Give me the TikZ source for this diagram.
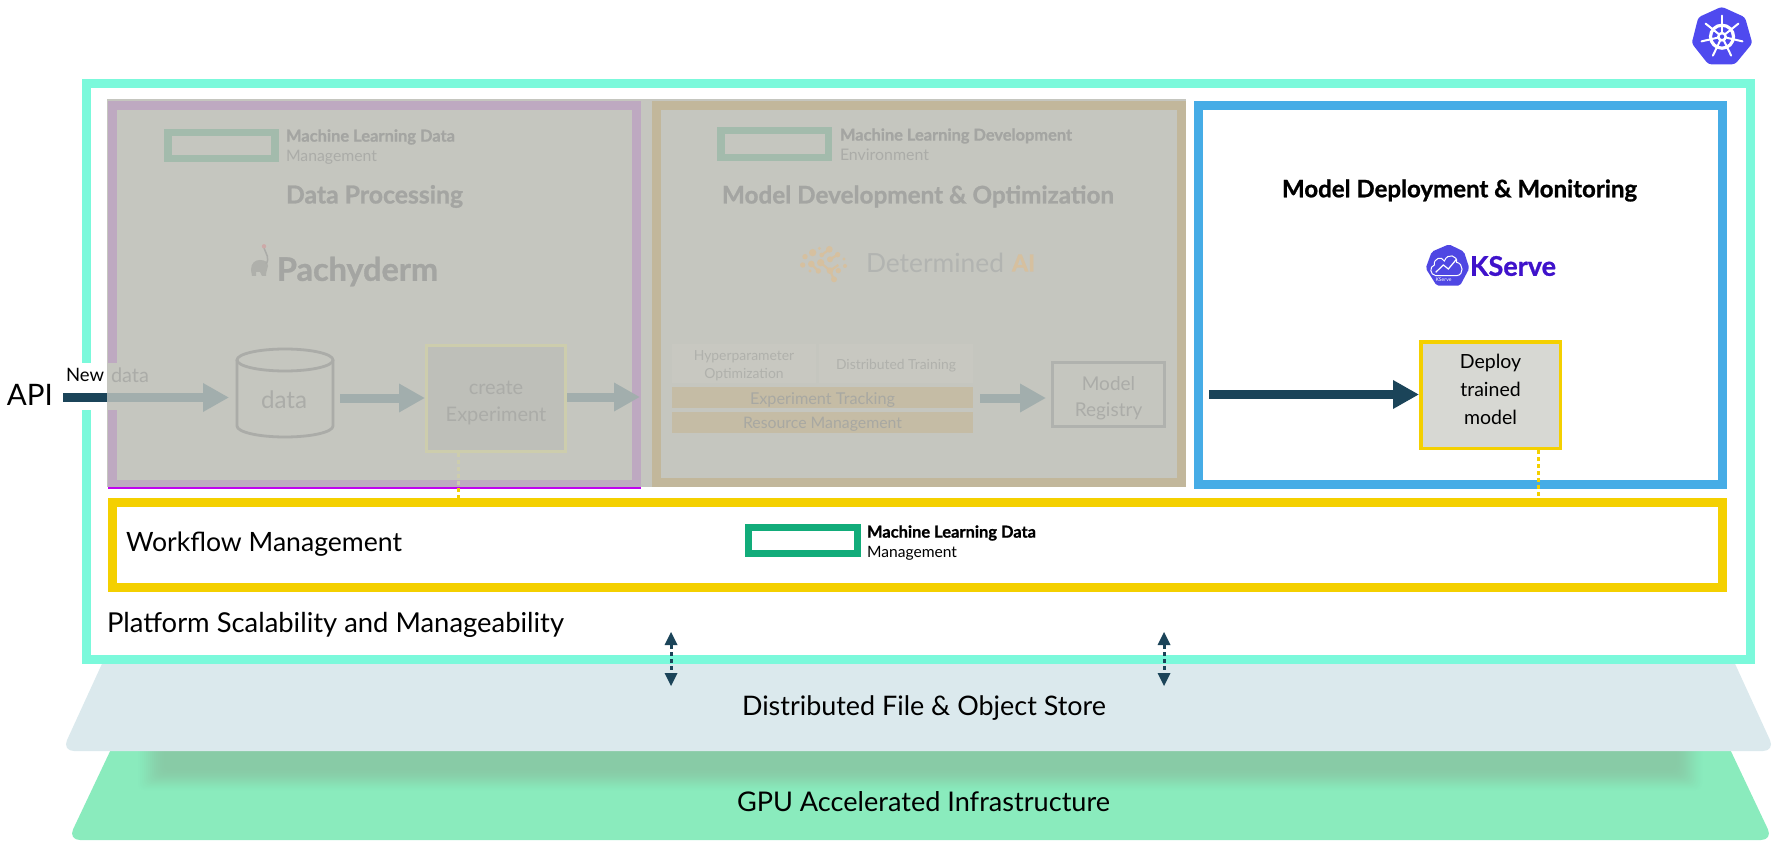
\documentclass[tikz,border=0pt]{standalone}
\usepackage{fontspec}
\usepackage{graphicx}
\setmainfont{Lato}[BoldFeatures={FakeBold=1.0}]
\usetikzlibrary{arrows.meta,calc}
\definecolor{teal1}{HTML}{7BF9DB}
\definecolor{over}{HTML}{C5C6BF}
\definecolor{purp}{HTML}{BEA9C1}
\definecolor{beig}{HTML}{C2B79B}
\definecolor{blue1}{HTML}{46ACE6}
\definecolor{yell}{HTML}{F4D000}
\definecolor{navy}{HTML}{1B4459}
\definecolor{store}{HTML}{DBE9ED}
\definecolor{gpu}{HTML}{8AEBBD}
\definecolor{shad}{HTML}{88CBA6}
\definecolor{bargrey}{HTML}{A2AEAD}
\definecolor{txgrey}{HTML}{A4A5A2}
\definecolor{txlight}{HTML}{ABACA8}
\definecolor{logog}{HTML}{A3BBAC}
\definecolor{hpe}{HTML}{12AC7A}
\definecolor{k8s}{HTML}{4F4AEF}
\definecolor{kser}{HTML}{3F12CB}
\definecolor{kshex}{HTML}{4F47E3}
\definecolor{detg}{HTML}{D6C09F}
\definecolor{balloon}{HTML}{CDAAA8}
\definecolor{magen}{HTML}{C000F0}
\definecolor{crb}{HTML}{CDCDAD}
\definecolor{crf}{HTML}{BEBFB9}
\definecolor{smf}{HTML}{C8C8C1}
\definecolor{smt}{HTML}{B0B1AC}
\definecolor{bnf}{HTML}{C5BCA5}
\definecolor{bnt}{HTML}{A8A8A2}
\definecolor{regb}{HTML}{B0B2AE}
\definecolor{dett}{HTML}{B2B4B1}
\definecolor{depf}{HTML}{D7D8D3}
\newcommand{\fit}[2]{\resizebox{#1pt}{!}{\fontsize{20}{24}\selectfont #2}}
\newcommand{\lift}[2]{\raisebox{#1pt}[\height][\depth]{\begin{tabular}{@{}c@{}}#2\end{tabular}}}
\newcommand{\nudge}[2]{\raisebox{#1pt}[\height][\depth]{#2}}
\tikzset{
  x=1pt,y=-1pt,
  frame/.style={draw,line width=9,minimum width=#1,inner sep=0,outer sep=0},
  txt/.style={inner sep=0,outer sep=0,anchor=west},
  ctxt/.style={inner sep=0,outer sep=0,anchor=center},
  fat/.style={line width=9,-{Triangle[length=26pt,width=27pt]}},
  dots/.style={line width=3,yell,dash pattern=on 4pt off 3pt},
  dbl/.style={line width=3,navy,dash pattern=on 4pt off 3pt},
  small/.style={inner sep=0,outer sep=0,minimum height=39,fill=smf,text=smt},
  band/.style={inner sep=0,outer sep=0,minimum width=301,minimum height=21,fill=bnf,text=bnt},
}
\begin{document}
\begin{tikzpicture}
\useasboundingbox (0,0) rectangle (1780,850);
% --- base layers
\fill[gpu] (113,745) [rounded corners=12] -- (68,840) -- (1773,840) [sharp corners] -- (1728,745) -- cycle;
\foreach \i in {0,...,15}{
  \fill[shad,opacity={0.03+0.02*\i},rounded corners=6] ({138+\i*2},745) rectangle ({1702-\i*2},{790-\i*1.5});
}
\fill[store] (106,655) [rounded corners=12] -- (62,751) -- (1775,751) [sharp corners] -- (1731,655) -- cycle;
% --- platform frame
\node[frame=1664,draw=teal1,fill=white,minimum height=576] (platform) at (918.5,371.5) {};
% --- greyed overlay
\node[inner sep=0,outer sep=0,fill=over,minimum width=1079,minimum height=388] (overlay) at (646.5,293) {};
\node[frame=524,draw=purp,minimum height=379] (dataframe) at (374.5,295) {};
\fill[white] (81,363) rectangle (107,410);
\fill[over] (107,363) rectangle (117,410);
\node[inner sep=0,outer sep=0,fill=magen,minimum width=533,minimum height=2] (magenta) at (374.5,488) {};
\node[frame=525,draw=beig,minimum height=377] (devframe) at (919,294) {};
\node[frame=524,draw=blue1,fill=white,minimum height=379] (deployframe) at (1460.5,295) {};
\node[frame=1610,draw=yell,fill=white,minimum height=85] (wf) at (917.5,545) {};
% --- logos
\node[frame=107,draw=logog,line width=7.5,minimum height=26] (logoA) at (221.5,145.5) {};
\node[frame=107.5,draw=logog,line width=7.5,minimum height=27] (logoB) at (774.5,144) {};
\node[frame=108.5,draw=hpe,line width=7,minimum height=26] (logoC) at (803,540.5) {};
% --- titles in the first frame
\node[txt,text=txgrey] (mlA) at (286,137) {\fit{169}{\bfseries Machine Learning Data}};
\node[txt,text=txlight] (mgA) at (286,157) {\fit{91}{Management}};
\node[txt,text=txgrey] (dp) at (286,196.5) {\fit{177}{\bfseries Data Processing}};
\node[txt,text=txgrey] (pach) at (277,271.5) {\fit{161}{\bfseries Pachyderm}};
% elephant
\fill[txlight!85!over] (251,270) .. controls (251,263) and (255,260) .. (260,260) .. controls (265,260) and (268,262) .. (268,266) .. controls (268,269) and (266,270) .. (266,276) -- (262,276) -- (260,272) -- (256,272) -- (256,276) -- (252,276) -- cycle;
\draw[txlight,line width=1.5] (266,264) .. controls (270,258) and (266,254) .. (264,248);
\fill[balloon] (264,246.3) circle[radius=2.2pt];
% cylinder
\node[inner sep=0,outer sep=0,minimum width=96,minimum height=88] (cyl) at (285,393) {};
\draw[line width=2.8,color=txlight] ($(cyl.north west)+(0,11)$) -- ($(cyl.south west)+(0,-11)$) arc[start angle=180,end angle=360,x radius=48pt,y radius=11pt] -- ($(cyl.north east)+(0,11)$);
\draw[line width=2.8,color=txlight] ($(cyl.north)+(0,11)$) ellipse[x radius=48pt,y radius=11pt];
\node[ctxt,text=txlight] (cyltext) at (284,400) {\fit{46}{data}};
% create box
\node[draw=crb,line width=3,fill=crf,minimum width=139,minimum height=106,inner sep=0,text=txlight,font=\fontsize{20}{27.5}\selectfont] (create) at (496,398.5) {\lift{-4}{create\\Experiment}};
% arrows in first frame
\coordinate (a0) at (63,397.5);
\coordinate (a1) at (107,397.5);
\coordinate (t1) at (229,397.5);
\draw[line width=9,navy] (a0) -- (a1);
\draw[fat,bargrey] (a1) -- (t1);
\coordinate (b0) at (340,398);
\draw[fat,bargrey] (b0) -- (b0 -| create.west);
\coordinate (c1) at (640,397);
\draw[fat,bargrey] (create.east |- c1) -- (c1);
% texts at the entry
\node[ctxt] (api) at (30,395) {\fit{46}{API}};
\node[txt] (new) at (66,375) {\fit{38}{New}};
\node[txt,text=txlight] (dataw) at (111,375) {\fit{38}{data}};
% second frame
\node[txt,text=txgrey] (mlB) at (840,136) {\fit{232}{\bfseries Machine Learning Development}};
\node[txt,text=txlight] (env) at (840,155) {\fit{89}{Environment}};
\node[txt,text=txgrey] (mdo) at (722,196.5) {\fit{392}{\bfseries Model Development \& Optimization}};
\node[txt,text=dett] (det) at (866,263) {\fit{138}{Determined}};
\node[txt,text=detg] (ai) at (1012,263) {\fit{23}{\bfseries AI}};
\begin{scope}[shift={(790,240)},x=0.3333pt,y=-0.3333pt]
 \draw[detg,line width=2.2] (92,68)--(120,92)--(132,118) (120,92)--(145,75) (95,45)--(118,28) (120,58)--(143,44) (64,72)--(85,93);
 \foreach \px/\py/\r in {45/50/8,68/38/11,38/75/8,64/72/10,92/68/11,60/93/5,85/93/8,88/25/5,118/28/10,95/45/7,120/58/9,143/44/8,162/57/5,165/78/6,145/92/8,120/92/10,132/118/9}{
  \fill[detg] (\px,\py) circle[radius=\r*0.3333pt];
 }
\end{scope}
\node[small,minimum width=144,font=\fontsize{13.9}{18}\selectfont] (hyper) at (744,363.5) {\lift{-2}{Hyperparameter\\Optimization}};
\node[small,minimum width=154] (dist) at (896,363.5) {\nudge{-2}{\fit{120}{Distributed Training}}};
\node[band] (track) at (822.5,397.5) {\nudge{-2}{\fit{145}{Experiment Tracking}}};
\node[band] (res) at (822.5,422.5) {\nudge{-2}{\fit{159}{Resource Management}}};
\node[draw=regb,line width=3,minimum width=112,minimum height=64,inner sep=0,text=txlight,font=\fontsize{19}{26}\selectfont] (registry) at (1108.5,394.5) {\lift{-4}{Model\\Registry}};
\coordinate (d0) at (980,398);
\draw[fat,bargrey] (d0) -- (1046,398) coordinate (d1);
% dotted link from create box
\coordinate (xx) at (458,0);
\draw[dots] (xx |- create.south) -- (xx |- wf.north);
\draw[dots,color=crb] (xx |- create.south) -- (458,487);
% third frame
\node[txt] (mdm) at (1282,190.5) {\fit{355}{\bfseries Model Deployment \& Monitoring}};
\node[txt,text=kser] (kserve) at (1470,266) {\fit{86}{\bfseries KServe}};
\fill[kshex,rounded corners=2] (1449,244.3)--(1464,251.7)--(1469.3,268.3)--(1460,285.7)--(1436.7,285.7)--(1425.7,268.3)--(1431.7,251.7)--cycle;
\begin{scope}[shift={(1415,235)},x=0.3333pt,y=-0.3333pt]
 \draw[white,line width=1] (62,122) .. controls (45,120) and (42,95) .. (58,90) .. controls (55,70) and (80,62) .. (88,78) .. controls (98,52) and (128,62) .. (125,82) .. controls (145,85) and (148,120) .. (125,122) -- cycle;
 \draw[white,line width=1.2] (62,112)--(85,90)--(100,102)--(125,72);
\end{scope}
\node[ctxt,text=white] (kstiny) at (1443.5,279.3) {\fit{16}{KServe}};
\node[draw=yell,line width=3.5,fill=depf,minimum width=139.5,minimum height=106.5,inner sep=0,font=\fontsize{19.5}{28}\selectfont] (deploy) at (1490.5,395) {\lift{4}{Deploy\\trained\\model}};
\coordinate (e0) at (1209,394.5);
\draw[fat,navy] (e0) -- (e0 -| deploy.west);
\coordinate (yy) at (1538,0);
\draw[dots] (yy |- deploy.south) -- (yy |- wf.north);
% workflow band
\node[txt] (wft) at (126,544) {\fit{276}{Workflow Management}};
\node[txt] (mlC) at (867,533) {\fit{169}{\bfseries Machine Learning Data}};
\node[txt] (mgC) at (867,553) {\fit{90}{Management}};
\node[txt] (psm) at (107,625) {\fit{457}{Platform Scalability and Manageability}};
\node[txt] (dfo) at (742,708) {\fit{364}{Distributed File \& Object Store}};
\node[txt] (gai) at (737,802) {\fit{373}{GPU Accelerated Infrastructure}};
% double arrows
\coordinate (p1) at (671,632); \coordinate (q1) at (671,686);
\coordinate (p2) at (1164,632); \coordinate (q2) at (1164,686);
\draw[dbl] ($(p1)+(0,13)$) -- ($(q1)+(0,-13)$);
\draw[dbl] ($(p2)+(0,13)$) -- ($(q2)+(0,-13)$);
\foreach \c/\s in {p1/1,q1/-1,p2/1,q2/-1}{
  \fill[navy] (\c) -- ($(\c)+(6.5,\s*13)$) -- ($(\c)+(-6.5,\s*13)$) -- cycle;
}
% kubernetes logo
\fill[k8s,rounded corners=3] (1721.7,6.7)--(1745,17.3)--(1752.3,43.3)--(1735,64.3)--(1708.3,64.3)--(1691.7,43.3)--(1698.3,17.3)--cycle;
\begin{scope}[shift={(1722,36.7)}]
 \foreach \i in {0,...,6}{
   \draw[white,line width=2,line cap=round] (0,0) -- ({\i*360/7-90}:21);
 }
 \draw[white,line width=3.2] (0,0) circle[radius=11.5pt];
 \fill[white] (0,0) circle[radius=5pt];
 \fill[k8s] (0,0) circle[radius=2.2pt];
\end{scope}
\end{tikzpicture}
\end{document}
